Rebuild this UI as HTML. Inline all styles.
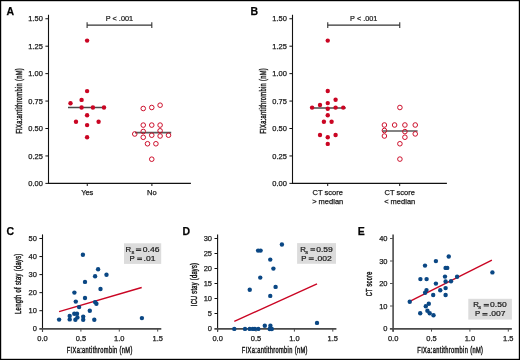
<!DOCTYPE html>
<html><head><meta charset="utf-8"><style>
html,body{margin:0;padding:0;background:#fff;}
body{width:520px;height:360px;overflow:hidden;}
svg{display:block;font-family:"Liberation Sans", sans-serif;will-change:transform;}
text{stroke:#1a1a1a;stroke-width:0.25px;}
</style></head><body>
<svg width="520" height="360" viewBox="0 0 520 360">
<rect x="0" y="0" width="520" height="360" fill="#fff"/>
<text x="6.6000000000000005" y="14.75" font-size="10.5" text-anchor="start" font-weight="bold" fill="#000" >A</text>
<line x1="48.5" y1="14.75" x2="48.5" y2="183.9" stroke="#111" stroke-width="1.1"/>
<line x1="48.0" y1="183.4" x2="190.9" y2="183.4" stroke="#111" stroke-width="1.1"/>
<line x1="45.4" y1="18.75" x2="48.5" y2="18.75" stroke="#111" stroke-width="1"/>
<text x="42.9" y="21.35" font-size="7.5" text-anchor="end" font-weight="normal" fill="#1a1a1a" >1.50</text>
<line x1="45.4" y1="46.19" x2="48.5" y2="46.19" stroke="#111" stroke-width="1"/>
<text x="42.9" y="48.79" font-size="7.5" text-anchor="end" font-weight="normal" fill="#1a1a1a" >1.25</text>
<line x1="45.4" y1="73.63" x2="48.5" y2="73.63" stroke="#111" stroke-width="1"/>
<text x="42.9" y="76.22999999999999" font-size="7.5" text-anchor="end" font-weight="normal" fill="#1a1a1a" >1.00</text>
<line x1="45.4" y1="101.07000000000001" x2="48.5" y2="101.07000000000001" stroke="#111" stroke-width="1"/>
<text x="42.9" y="103.67" font-size="7.5" text-anchor="end" font-weight="normal" fill="#1a1a1a" >0.75</text>
<line x1="45.4" y1="128.51" x2="48.5" y2="128.51" stroke="#111" stroke-width="1"/>
<text x="42.9" y="131.10999999999999" font-size="7.5" text-anchor="end" font-weight="normal" fill="#1a1a1a" >0.50</text>
<line x1="45.4" y1="155.95000000000002" x2="48.5" y2="155.95000000000002" stroke="#111" stroke-width="1"/>
<text x="42.9" y="158.55" font-size="7.5" text-anchor="end" font-weight="normal" fill="#1a1a1a" >0.25</text>
<line x1="45.4" y1="183.39000000000001" x2="48.5" y2="183.39000000000001" stroke="#111" stroke-width="1"/>
<text x="42.9" y="185.99" font-size="7.5" text-anchor="end" font-weight="normal" fill="#1a1a1a" >0.00</text>
<line x1="87.25" y1="183.4" x2="87.25" y2="186" stroke="#111" stroke-width="1"/>
<line x1="151.9" y1="183.4" x2="151.9" y2="186" stroke="#111" stroke-width="1"/>
<text x="87.25" y="194.7" font-size="7.5" text-anchor="middle" font-weight="normal" fill="#1a1a1a" >Yes</text>
<text x="151.9" y="194.7" font-size="7.5" text-anchor="middle" font-weight="normal" fill="#1a1a1a" >No</text>
<text transform="translate(21.7,133.75) rotate(-90) scale(0.6951,1)" font-size="8.2" fill="#1a1a1a" letter-spacing="0.5" style="stroke-width:0.45px">FIXa:antithrombin (nM)</text>
<line x1="87.1" y1="25.1" x2="151.8" y2="25.1" stroke="#333" stroke-width="1.1"/>
<line x1="87.1" y1="22.3" x2="87.1" y2="27.9" stroke="#333" stroke-width="1.1"/>
<line x1="151.8" y1="22.3" x2="151.8" y2="27.9" stroke="#333" stroke-width="1.1"/>
<text transform="translate(119.45,21.2) scale(0.9133,1)" font-size="8" text-anchor="middle" font-weight="normal" fill="#1a1a1a" >P &lt; .001</text>
<line x1="68" y1="107.5" x2="105.5" y2="107.5" stroke="#4a4a4a" stroke-width="1.5"/>
<line x1="135" y1="132.7" x2="171.2" y2="132.7" stroke="#5a5a5a" stroke-width="1.7"/>
<circle cx="87.1" cy="40.6" r="2.2" fill="#ca0523"/>
<circle cx="87.1" cy="91.1" r="2.2" fill="#ca0523"/>
<circle cx="81.6" cy="99.9" r="2.2" fill="#ca0523"/>
<circle cx="70.5" cy="103.2" r="2.2" fill="#ca0523"/>
<circle cx="81.6" cy="107.5" r="2.2" fill="#ca0523"/>
<circle cx="92.9" cy="107.5" r="2.2" fill="#ca0523"/>
<circle cx="104" cy="107.5" r="2.2" fill="#ca0523"/>
<circle cx="87.1" cy="115.3" r="2.2" fill="#ca0523"/>
<circle cx="76" cy="121.8" r="2.2" fill="#ca0523"/>
<circle cx="98.6" cy="121.8" r="2.2" fill="#ca0523"/>
<circle cx="87.1" cy="125.1" r="2.2" fill="#ca0523"/>
<circle cx="87.1" cy="137.2" r="2.2" fill="#ca0523"/>
<circle cx="143.25" cy="108.5" r="2.3" fill="none" stroke="#ca0523" stroke-width="0.95"/>
<circle cx="151.75" cy="107.5" r="2.3" fill="none" stroke="#ca0523" stroke-width="0.95"/>
<circle cx="160.1" cy="105.2" r="2.3" fill="none" stroke="#ca0523" stroke-width="0.95"/>
<circle cx="143.25" cy="125.1" r="2.3" fill="none" stroke="#ca0523" stroke-width="0.95"/>
<circle cx="151.75" cy="125.1" r="2.3" fill="none" stroke="#ca0523" stroke-width="0.95"/>
<circle cx="160.1" cy="125.1" r="2.3" fill="none" stroke="#ca0523" stroke-width="0.95"/>
<circle cx="143.25" cy="131.5" r="2.3" fill="none" stroke="#ca0523" stroke-width="0.95"/>
<circle cx="160.1" cy="130.8" r="2.3" fill="none" stroke="#ca0523" stroke-width="0.95"/>
<circle cx="134.75" cy="134.0" r="2.3" fill="none" stroke="#ca0523" stroke-width="0.95"/>
<circle cx="151.75" cy="135.2" r="2.3" fill="none" stroke="#ca0523" stroke-width="0.95"/>
<circle cx="160.1" cy="136.0" r="2.3" fill="none" stroke="#ca0523" stroke-width="0.95"/>
<circle cx="168.5" cy="135.2" r="2.3" fill="none" stroke="#ca0523" stroke-width="0.95"/>
<circle cx="143.25" cy="137.3" r="2.3" fill="none" stroke="#ca0523" stroke-width="0.95"/>
<circle cx="147.5" cy="143.75" r="2.3" fill="none" stroke="#ca0523" stroke-width="0.95"/>
<circle cx="155.9" cy="143.75" r="2.3" fill="none" stroke="#ca0523" stroke-width="0.95"/>
<circle cx="151.75" cy="159.2" r="2.3" fill="none" stroke="#ca0523" stroke-width="0.95"/>
<text x="250.6" y="14.75" font-size="10.5" text-anchor="start" font-weight="bold" fill="#000" >B</text>
<line x1="292.5" y1="14.75" x2="292.5" y2="183.9" stroke="#111" stroke-width="1.1"/>
<line x1="292.0" y1="183.4" x2="446.9" y2="183.4" stroke="#111" stroke-width="1.1"/>
<line x1="289.4" y1="18.75" x2="292.5" y2="18.75" stroke="#111" stroke-width="1"/>
<text x="286.9" y="21.35" font-size="7.5" text-anchor="end" font-weight="normal" fill="#1a1a1a" >1.50</text>
<line x1="289.4" y1="46.19" x2="292.5" y2="46.19" stroke="#111" stroke-width="1"/>
<text x="286.9" y="48.79" font-size="7.5" text-anchor="end" font-weight="normal" fill="#1a1a1a" >1.25</text>
<line x1="289.4" y1="73.63" x2="292.5" y2="73.63" stroke="#111" stroke-width="1"/>
<text x="286.9" y="76.22999999999999" font-size="7.5" text-anchor="end" font-weight="normal" fill="#1a1a1a" >1.00</text>
<line x1="289.4" y1="101.07000000000001" x2="292.5" y2="101.07000000000001" stroke="#111" stroke-width="1"/>
<text x="286.9" y="103.67" font-size="7.5" text-anchor="end" font-weight="normal" fill="#1a1a1a" >0.75</text>
<line x1="289.4" y1="128.51" x2="292.5" y2="128.51" stroke="#111" stroke-width="1"/>
<text x="286.9" y="131.10999999999999" font-size="7.5" text-anchor="end" font-weight="normal" fill="#1a1a1a" >0.50</text>
<line x1="289.4" y1="155.95000000000002" x2="292.5" y2="155.95000000000002" stroke="#111" stroke-width="1"/>
<text x="286.9" y="158.55" font-size="7.5" text-anchor="end" font-weight="normal" fill="#1a1a1a" >0.25</text>
<line x1="289.4" y1="183.39000000000001" x2="292.5" y2="183.39000000000001" stroke="#111" stroke-width="1"/>
<text x="286.9" y="185.99" font-size="7.5" text-anchor="end" font-weight="normal" fill="#1a1a1a" >0.00</text>
<line x1="327.7" y1="183.4" x2="327.7" y2="186" stroke="#111" stroke-width="1"/>
<line x1="399.7" y1="183.4" x2="399.7" y2="186" stroke="#111" stroke-width="1"/>
<text x="327.7" y="194.7" font-size="7.5" text-anchor="middle" font-weight="normal" fill="#1a1a1a" >CT score</text>
<text x="327.7" y="204.0" font-size="7.5" text-anchor="middle" font-weight="normal" fill="#1a1a1a" >&gt; median</text>
<text x="399.7" y="194.7" font-size="7.5" text-anchor="middle" font-weight="normal" fill="#1a1a1a" >CT score</text>
<text x="399.7" y="204.0" font-size="7.5" text-anchor="middle" font-weight="normal" fill="#1a1a1a" >&lt; median</text>
<text transform="translate(265.7,133.75) rotate(-90) scale(0.6951,1)" font-size="8.2" fill="#1a1a1a" letter-spacing="0.5" style="stroke-width:0.45px">FIXa:antithrombin (nM)</text>
<line x1="327.75" y1="25.1" x2="399.75" y2="25.1" stroke="#333" stroke-width="1.1"/>
<line x1="327.75" y1="22.3" x2="327.75" y2="27.9" stroke="#333" stroke-width="1.1"/>
<line x1="399.75" y1="22.3" x2="399.75" y2="27.9" stroke="#333" stroke-width="1.1"/>
<text transform="translate(363.75,21.2) scale(0.9133,1)" font-size="8" text-anchor="middle" font-weight="normal" fill="#1a1a1a" >P &lt; .001</text>
<line x1="310.5" y1="108" x2="345.7" y2="108" stroke="#4a4a4a" stroke-width="1.5"/>
<line x1="382.3" y1="131" x2="417.6" y2="131" stroke="#5a5a5a" stroke-width="1.7"/>
<circle cx="327.75" cy="40.6" r="2.2" fill="#ca0523"/>
<circle cx="327.75" cy="91" r="2.2" fill="#ca0523"/>
<circle cx="335.6" cy="99.75" r="2.2" fill="#ca0523"/>
<circle cx="320" cy="105" r="2.2" fill="#ca0523"/>
<circle cx="327.75" cy="103.1" r="2.2" fill="#ca0523"/>
<circle cx="312.1" cy="107.6" r="2.2" fill="#ca0523"/>
<circle cx="327.75" cy="108.75" r="2.2" fill="#ca0523"/>
<circle cx="335.6" cy="107.6" r="2.2" fill="#ca0523"/>
<circle cx="343.25" cy="107.6" r="2.2" fill="#ca0523"/>
<circle cx="327.75" cy="115.3" r="2.2" fill="#ca0523"/>
<circle cx="323.9" cy="121.8" r="2.2" fill="#ca0523"/>
<circle cx="331.6" cy="121.8" r="2.2" fill="#ca0523"/>
<circle cx="320" cy="135" r="2.2" fill="#ca0523"/>
<circle cx="335.6" cy="135" r="2.2" fill="#ca0523"/>
<circle cx="327.75" cy="137.25" r="2.2" fill="#ca0523"/>
<circle cx="327.75" cy="143.9" r="2.2" fill="#ca0523"/>
<circle cx="399.9" cy="107.5" r="2.3" fill="none" stroke="#ca0523" stroke-width="0.95"/>
<circle cx="384.4" cy="125" r="2.3" fill="none" stroke="#ca0523" stroke-width="0.95"/>
<circle cx="394.6" cy="125" r="2.3" fill="none" stroke="#ca0523" stroke-width="0.95"/>
<circle cx="404.9" cy="125" r="2.3" fill="none" stroke="#ca0523" stroke-width="0.95"/>
<circle cx="415.25" cy="125" r="2.3" fill="none" stroke="#ca0523" stroke-width="0.95"/>
<circle cx="384.4" cy="130.5" r="2.3" fill="none" stroke="#ca0523" stroke-width="0.95"/>
<circle cx="404.9" cy="131.6" r="2.3" fill="none" stroke="#ca0523" stroke-width="0.95"/>
<circle cx="415.25" cy="133.9" r="2.3" fill="none" stroke="#ca0523" stroke-width="0.95"/>
<circle cx="384.4" cy="136" r="2.3" fill="none" stroke="#ca0523" stroke-width="0.95"/>
<circle cx="404.9" cy="137.25" r="2.3" fill="none" stroke="#ca0523" stroke-width="0.95"/>
<circle cx="399.9" cy="143.75" r="2.3" fill="none" stroke="#ca0523" stroke-width="0.95"/>
<circle cx="399.9" cy="159.1" r="2.3" fill="none" stroke="#ca0523" stroke-width="0.95"/>
<text x="6.6" y="234.6" font-size="10.5" text-anchor="start" font-weight="bold" fill="#000" >C</text>
<line x1="42.5" y1="234.4" x2="42.5" y2="331.8" stroke="#111" stroke-width="1.1"/>
<line x1="39.3" y1="328.9" x2="161.3" y2="328.9" stroke="#4a4a4a" stroke-width="1.7"/>
<line x1="39.4" y1="238.5" x2="42.5" y2="238.5" stroke="#111" stroke-width="1"/>
<text x="36.9" y="241.1" font-size="7.5" text-anchor="end" font-weight="normal" fill="#1a1a1a" >50</text>
<line x1="39.4" y1="256.55" x2="42.5" y2="256.55" stroke="#111" stroke-width="1"/>
<text x="36.9" y="259.15000000000003" font-size="7.5" text-anchor="end" font-weight="normal" fill="#1a1a1a" >40</text>
<line x1="39.4" y1="274.6" x2="42.5" y2="274.6" stroke="#111" stroke-width="1"/>
<text x="36.9" y="277.20000000000005" font-size="7.5" text-anchor="end" font-weight="normal" fill="#1a1a1a" >30</text>
<line x1="39.4" y1="292.65" x2="42.5" y2="292.65" stroke="#111" stroke-width="1"/>
<text x="36.9" y="295.25" font-size="7.5" text-anchor="end" font-weight="normal" fill="#1a1a1a" >20</text>
<line x1="39.4" y1="310.7" x2="42.5" y2="310.7" stroke="#111" stroke-width="1"/>
<text x="36.9" y="313.3" font-size="7.5" text-anchor="end" font-weight="normal" fill="#1a1a1a" >10</text>
<text x="36.9" y="331.35" font-size="7.5" text-anchor="end" font-weight="normal" fill="#1a1a1a" >0</text>
<line x1="42.5" y1="328.9" x2="42.5" y2="331.6" stroke="#4a4a4a" stroke-width="1"/>
<text x="42.5" y="340.6" font-size="7.5" text-anchor="middle" font-weight="normal" fill="#1a1a1a" >0.0</text>
<line x1="80.9" y1="328.9" x2="80.9" y2="331.6" stroke="#4a4a4a" stroke-width="1"/>
<text x="80.9" y="340.6" font-size="7.5" text-anchor="middle" font-weight="normal" fill="#1a1a1a" >0.5</text>
<line x1="119.3" y1="328.9" x2="119.3" y2="331.6" stroke="#4a4a4a" stroke-width="1"/>
<text x="119.3" y="340.6" font-size="7.5" text-anchor="middle" font-weight="normal" fill="#1a1a1a" >1.0</text>
<line x1="157.7" y1="328.9" x2="157.7" y2="331.6" stroke="#4a4a4a" stroke-width="1"/>
<text x="157.7" y="340.6" font-size="7.5" text-anchor="middle" font-weight="normal" fill="#1a1a1a" >1.5</text>
<text transform="translate(66.75,353.1) scale(0.6961,1)" font-size="8.2" fill="#1a1a1a" letter-spacing="0.5" style="stroke-width:0.45px">FIXa:antithrombin (nM)</text>
<text transform="translate(21.2,313.9) rotate(-90) scale(0.6962,1)" font-size="8.2" fill="#1a1a1a" letter-spacing="0.5" style="stroke-width:0.45px">Length of stay (days)</text>
<rect x="124" y="243.3" width="37.2" height="20.6" fill="#dcdcdc"/>
<text x="125.4" y="251.8" font-size="7.8" fill="#1a1a1a" style="stroke-width:0.22px">R</text>
<text x="131.6" y="253.8" font-size="5.6" fill="#1a1a1a" style="stroke-width:0.22px">s</text>
<text transform="translate(142.79999999999998,251.8) scale(1.08,1)" font-size="7.9" fill="#1a1a1a" style="stroke-width:0.22px">0.46</text>
<text x="129.5" y="260.90000000000003" font-size="7.8" fill="#1a1a1a" style="stroke-width:0.22px">P</text>
<text transform="translate(143.6,260.90000000000003) scale(1.08,1)" font-size="7.9" fill="#1a1a1a" style="stroke-width:0.22px">.01</text>
<rect x="135.9" y="248.45000000000002" width="5.299999999999999" height="1.0" fill="#2a2a2a"/>
<rect x="135.9" y="249.95000000000002" width="5.299999999999999" height="1.0" fill="#2a2a2a"/>
<rect x="137.2" y="257.55" width="4.800000000000001" height="1.0" fill="#2a2a2a"/>
<rect x="137.2" y="259.05" width="4.800000000000001" height="1.0" fill="#2a2a2a"/>
<line x1="59.1" y1="311.6" x2="141.7" y2="287.5" stroke="#ca0523" stroke-width="1.4"/>
<circle cx="59.1" cy="319.6" r="2.2" fill="#0a4784"/>
<circle cx="69.7" cy="315.9" r="2.2" fill="#0a4784"/>
<circle cx="69.7" cy="319.4" r="2.2" fill="#0a4784"/>
<circle cx="74.3" cy="313.75" r="2.2" fill="#0a4784"/>
<circle cx="77" cy="313.75" r="2.2" fill="#0a4784"/>
<circle cx="77.4" cy="317.4" r="2.2" fill="#0a4784"/>
<circle cx="75.4" cy="319.75" r="2.2" fill="#0a4784"/>
<circle cx="83.2" cy="316.6" r="2.2" fill="#0a4784"/>
<circle cx="83.2" cy="319.75" r="2.2" fill="#0a4784"/>
<circle cx="75.8" cy="301.6" r="2.2" fill="#0a4784"/>
<circle cx="79.1" cy="307.1" r="2.2" fill="#0a4784"/>
<circle cx="74.4" cy="292.6" r="2.2" fill="#0a4784"/>
<circle cx="85" cy="298" r="2.2" fill="#0a4784"/>
<circle cx="82.9" cy="254.75" r="2.2" fill="#0a4784"/>
<circle cx="85" cy="281.9" r="2.2" fill="#0a4784"/>
<circle cx="95.1" cy="276.3" r="2.2" fill="#0a4784"/>
<circle cx="98.1" cy="269.25" r="2.2" fill="#0a4784"/>
<circle cx="106.5" cy="274.7" r="2.2" fill="#0a4784"/>
<circle cx="100.5" cy="289" r="2.2" fill="#0a4784"/>
<circle cx="95.1" cy="302.1" r="2.2" fill="#0a4784"/>
<circle cx="96.4" cy="303.7" r="2.2" fill="#0a4784"/>
<circle cx="89.8" cy="310.7" r="2.2" fill="#0a4784"/>
<circle cx="94.3" cy="319.8" r="2.2" fill="#0a4784"/>
<circle cx="141.9" cy="318.1" r="2.2" fill="#0a4784"/>
<text x="182.6" y="234.6" font-size="10.5" text-anchor="start" font-weight="bold" fill="#000" >D</text>
<line x1="217.6" y1="234.4" x2="217.6" y2="331.8" stroke="#111" stroke-width="1.1"/>
<line x1="214.4" y1="328.9" x2="336.4" y2="328.9" stroke="#4a4a4a" stroke-width="1.7"/>
<line x1="214.5" y1="238.5" x2="217.6" y2="238.5" stroke="#111" stroke-width="1"/>
<text x="212.0" y="241.1" font-size="7.5" text-anchor="end" font-weight="normal" fill="#1a1a1a" >30</text>
<line x1="214.5" y1="253.5" x2="217.6" y2="253.5" stroke="#111" stroke-width="1"/>
<text x="212.0" y="256.1" font-size="7.5" text-anchor="end" font-weight="normal" fill="#1a1a1a" >25</text>
<line x1="214.5" y1="268.5" x2="217.6" y2="268.5" stroke="#111" stroke-width="1"/>
<text x="212.0" y="271.1" font-size="7.5" text-anchor="end" font-weight="normal" fill="#1a1a1a" >20</text>
<line x1="214.5" y1="283.5" x2="217.6" y2="283.5" stroke="#111" stroke-width="1"/>
<text x="212.0" y="286.1" font-size="7.5" text-anchor="end" font-weight="normal" fill="#1a1a1a" >15</text>
<line x1="214.5" y1="298.5" x2="217.6" y2="298.5" stroke="#111" stroke-width="1"/>
<text x="212.0" y="301.1" font-size="7.5" text-anchor="end" font-weight="normal" fill="#1a1a1a" >10</text>
<line x1="214.5" y1="313.5" x2="217.6" y2="313.5" stroke="#111" stroke-width="1"/>
<text x="212.0" y="316.1" font-size="7.5" text-anchor="end" font-weight="normal" fill="#1a1a1a" >5</text>
<text x="212.0" y="331.1" font-size="7.5" text-anchor="end" font-weight="normal" fill="#1a1a1a" >0</text>
<line x1="217.6" y1="328.9" x2="217.6" y2="331.6" stroke="#4a4a4a" stroke-width="1"/>
<text x="217.6" y="340.6" font-size="7.5" text-anchor="middle" font-weight="normal" fill="#1a1a1a" >0.0</text>
<line x1="256.0" y1="328.9" x2="256.0" y2="331.6" stroke="#4a4a4a" stroke-width="1"/>
<text x="256.0" y="340.6" font-size="7.5" text-anchor="middle" font-weight="normal" fill="#1a1a1a" >0.5</text>
<line x1="294.4" y1="328.9" x2="294.4" y2="331.6" stroke="#4a4a4a" stroke-width="1"/>
<text x="294.4" y="340.6" font-size="7.5" text-anchor="middle" font-weight="normal" fill="#1a1a1a" >1.0</text>
<line x1="332.79999999999995" y1="328.9" x2="332.79999999999995" y2="331.6" stroke="#4a4a4a" stroke-width="1"/>
<text x="332.79999999999995" y="340.6" font-size="7.5" text-anchor="middle" font-weight="normal" fill="#1a1a1a" >1.5</text>
<text transform="translate(241.85,353.1) scale(0.6961,1)" font-size="8.2" fill="#1a1a1a" letter-spacing="0.5" style="stroke-width:0.45px">FIXa:antithrombin (nM)</text>
<text transform="translate(196.8,306.2) rotate(-90) scale(0.6812,1)" font-size="8.2" fill="#1a1a1a" letter-spacing="0.5" style="stroke-width:0.45px">ICU stay (days)</text>
<rect x="297.1" y="243.1" width="38.9" height="20.7" fill="#dcdcdc"/>
<text x="300.15" y="251.6" font-size="7.8" fill="#1a1a1a" style="stroke-width:0.22px">R</text>
<text x="305.3" y="253.6" font-size="5.6" fill="#1a1a1a" style="stroke-width:0.22px">s</text>
<text transform="translate(316.20000000000005,251.6) scale(1.08,1)" font-size="7.9" fill="#1a1a1a" style="stroke-width:0.22px">0.59</text>
<text x="301.2" y="260.7" font-size="7.8" fill="#1a1a1a" style="stroke-width:0.22px">P</text>
<text transform="translate(315.1,260.7) scale(1.08,1)" font-size="7.9" fill="#1a1a1a" style="stroke-width:0.22px">.002</text>
<rect x="310.40000000000003" y="248.25" width="4.699999999999999" height="1.0" fill="#2a2a2a"/>
<rect x="310.40000000000003" y="249.75" width="4.699999999999999" height="1.0" fill="#2a2a2a"/>
<rect x="308.70000000000005" y="257.34999999999997" width="5.1" height="1.0" fill="#2a2a2a"/>
<rect x="308.70000000000005" y="258.84999999999997" width="5.1" height="1.0" fill="#2a2a2a"/>
<line x1="234.3" y1="321.4" x2="317" y2="283.9" stroke="#ca0523" stroke-width="1.4"/>
<circle cx="234.3" cy="328.9" r="2.2" fill="#0a4784"/>
<circle cx="245" cy="328.9" r="2.2" fill="#0a4784"/>
<circle cx="249.7" cy="328.9" r="2.2" fill="#0a4784"/>
<circle cx="252.8" cy="328.9" r="2.2" fill="#0a4784"/>
<circle cx="254.9" cy="328.9" r="2.2" fill="#0a4784"/>
<circle cx="258.3" cy="328.9" r="2.2" fill="#0a4784"/>
<circle cx="264.8" cy="325.7" r="2.2" fill="#0a4784"/>
<circle cx="270.4" cy="325.7" r="2.2" fill="#0a4784"/>
<circle cx="269.7" cy="329" r="2.2" fill="#0a4784"/>
<circle cx="271.8" cy="329" r="2.2" fill="#0a4784"/>
<circle cx="281.9" cy="244.5" r="2.2" fill="#0a4784"/>
<circle cx="258.1" cy="250.6" r="2.2" fill="#0a4784"/>
<circle cx="260.6" cy="250.6" r="2.2" fill="#0a4784"/>
<circle cx="270.25" cy="259.6" r="2.2" fill="#0a4784"/>
<circle cx="273.4" cy="268.6" r="2.2" fill="#0a4784"/>
<circle cx="260.25" cy="277.6" r="2.2" fill="#0a4784"/>
<circle cx="249.75" cy="289.75" r="2.2" fill="#0a4784"/>
<circle cx="275.6" cy="286.9" r="2.2" fill="#0a4784"/>
<circle cx="270.25" cy="295.9" r="2.2" fill="#0a4784"/>
<circle cx="317" cy="322.9" r="2.2" fill="#0a4784"/>
<text x="357.8" y="234.6" font-size="10.5" text-anchor="start" font-weight="bold" fill="#000" >E</text>
<line x1="393.1" y1="234.4" x2="393.1" y2="331.8" stroke="#555" stroke-width="1.7"/>
<line x1="389.90000000000003" y1="328.9" x2="511.90000000000003" y2="328.9" stroke="#4a4a4a" stroke-width="1.7"/>
<line x1="390.0" y1="238.5" x2="393.1" y2="238.5" stroke="#555" stroke-width="1"/>
<text x="387.5" y="241.1" font-size="7.5" text-anchor="end" font-weight="normal" fill="#1a1a1a" >40</text>
<line x1="390.0" y1="261.0" x2="393.1" y2="261.0" stroke="#555" stroke-width="1"/>
<text x="387.5" y="263.6" font-size="7.5" text-anchor="end" font-weight="normal" fill="#1a1a1a" >30</text>
<line x1="390.0" y1="283.5" x2="393.1" y2="283.5" stroke="#555" stroke-width="1"/>
<text x="387.5" y="286.1" font-size="7.5" text-anchor="end" font-weight="normal" fill="#1a1a1a" >20</text>
<line x1="390.0" y1="306.0" x2="393.1" y2="306.0" stroke="#555" stroke-width="1"/>
<text x="387.5" y="308.6" font-size="7.5" text-anchor="end" font-weight="normal" fill="#1a1a1a" >10</text>
<text x="387.5" y="331.1" font-size="7.5" text-anchor="end" font-weight="normal" fill="#1a1a1a" >0</text>
<line x1="393.1" y1="328.9" x2="393.1" y2="331.6" stroke="#4a4a4a" stroke-width="1"/>
<text x="393.1" y="340.6" font-size="7.5" text-anchor="middle" font-weight="normal" fill="#1a1a1a" >0.0</text>
<line x1="431.5" y1="328.9" x2="431.5" y2="331.6" stroke="#4a4a4a" stroke-width="1"/>
<text x="431.5" y="340.6" font-size="7.5" text-anchor="middle" font-weight="normal" fill="#1a1a1a" >0.5</text>
<line x1="469.90000000000003" y1="328.9" x2="469.90000000000003" y2="331.6" stroke="#4a4a4a" stroke-width="1"/>
<text x="469.90000000000003" y="340.6" font-size="7.5" text-anchor="middle" font-weight="normal" fill="#1a1a1a" >1.0</text>
<line x1="508.3" y1="328.9" x2="508.3" y2="331.6" stroke="#4a4a4a" stroke-width="1"/>
<text x="508.3" y="340.6" font-size="7.5" text-anchor="middle" font-weight="normal" fill="#1a1a1a" >1.5</text>
<text transform="translate(417.35,353.1) scale(0.6961,1)" font-size="8.2" fill="#1a1a1a" letter-spacing="0.5" style="stroke-width:0.45px">FIXa:antithrombin (nM)</text>
<text transform="translate(372.2,296.2) rotate(-90) scale(0.6701,1)" font-size="8.2" fill="#1a1a1a" letter-spacing="0.5" style="stroke-width:0.45px">CT score</text>
<rect x="468.3" y="298.8" width="43.6" height="20.8" fill="#dcdcdc"/>
<text x="473.25" y="307.3" font-size="7.8" fill="#1a1a1a" style="stroke-width:0.22px">R</text>
<text x="478.2" y="309.3" font-size="5.6" fill="#1a1a1a" style="stroke-width:0.22px">s</text>
<text transform="translate(490.1,307.3) scale(1.08,1)" font-size="7.9" fill="#1a1a1a" style="stroke-width:0.22px">0.50</text>
<text x="475.09999999999997" y="316.40000000000003" font-size="7.8" fill="#1a1a1a" style="stroke-width:0.22px">P</text>
<text transform="translate(488.9,316.40000000000003) scale(1.08,1)" font-size="7.9" fill="#1a1a1a" style="stroke-width:0.22px">.007</text>
<rect x="483.7" y="303.95" width="5.200000000000001" height="1.0" fill="#2a2a2a"/>
<rect x="483.7" y="305.45" width="5.200000000000001" height="1.0" fill="#2a2a2a"/>
<rect x="482.40000000000003" y="313.05" width="5.1" height="1.0" fill="#2a2a2a"/>
<rect x="482.40000000000003" y="314.55" width="5.1" height="1.0" fill="#2a2a2a"/>
<line x1="409.75" y1="301.3" x2="491.9" y2="260.15" stroke="#ca0523" stroke-width="1.4"/>
<circle cx="448.75" cy="256.5" r="2.2" fill="#0a4784"/>
<circle cx="435.9" cy="261.1" r="2.2" fill="#0a4784"/>
<circle cx="425" cy="265.6" r="2.2" fill="#0a4784"/>
<circle cx="445.6" cy="267.9" r="2.2" fill="#0a4784"/>
<circle cx="447.25" cy="267.9" r="2.2" fill="#0a4784"/>
<circle cx="445" cy="276.6" r="2.2" fill="#0a4784"/>
<circle cx="457.1" cy="276.7" r="2.2" fill="#0a4784"/>
<circle cx="420.4" cy="279.1" r="2.2" fill="#0a4784"/>
<circle cx="426.6" cy="279.1" r="2.2" fill="#0a4784"/>
<circle cx="445.6" cy="281.5" r="2.2" fill="#0a4784"/>
<circle cx="451" cy="281.25" r="2.2" fill="#0a4784"/>
<circle cx="435.9" cy="283.6" r="2.2" fill="#0a4784"/>
<circle cx="445.6" cy="288.1" r="2.2" fill="#0a4784"/>
<circle cx="440.25" cy="290.25" r="2.2" fill="#0a4784"/>
<circle cx="426.5" cy="290.1" r="2.2" fill="#0a4784"/>
<circle cx="425.1" cy="292.8" r="2.2" fill="#0a4784"/>
<circle cx="433.2" cy="295" r="2.2" fill="#0a4784"/>
<circle cx="445.6" cy="295" r="2.2" fill="#0a4784"/>
<circle cx="409.75" cy="301.8" r="2.2" fill="#0a4784"/>
<circle cx="428.8" cy="303.8" r="2.2" fill="#0a4784"/>
<circle cx="425.8" cy="306.2" r="2.2" fill="#0a4784"/>
<circle cx="420.2" cy="313.2" r="2.2" fill="#0a4784"/>
<circle cx="427.4" cy="310.8" r="2.2" fill="#0a4784"/>
<circle cx="429.7" cy="313.2" r="2.2" fill="#0a4784"/>
<circle cx="433.5" cy="315.3" r="2.2" fill="#0a4784"/>
<circle cx="492.4" cy="272.4" r="2.2" fill="#0a4784"/>
<rect x="0.6" y="0.6" width="518.8" height="358.8" fill="none" stroke="#000" stroke-width="1.2"/>
</svg>
</body></html>
